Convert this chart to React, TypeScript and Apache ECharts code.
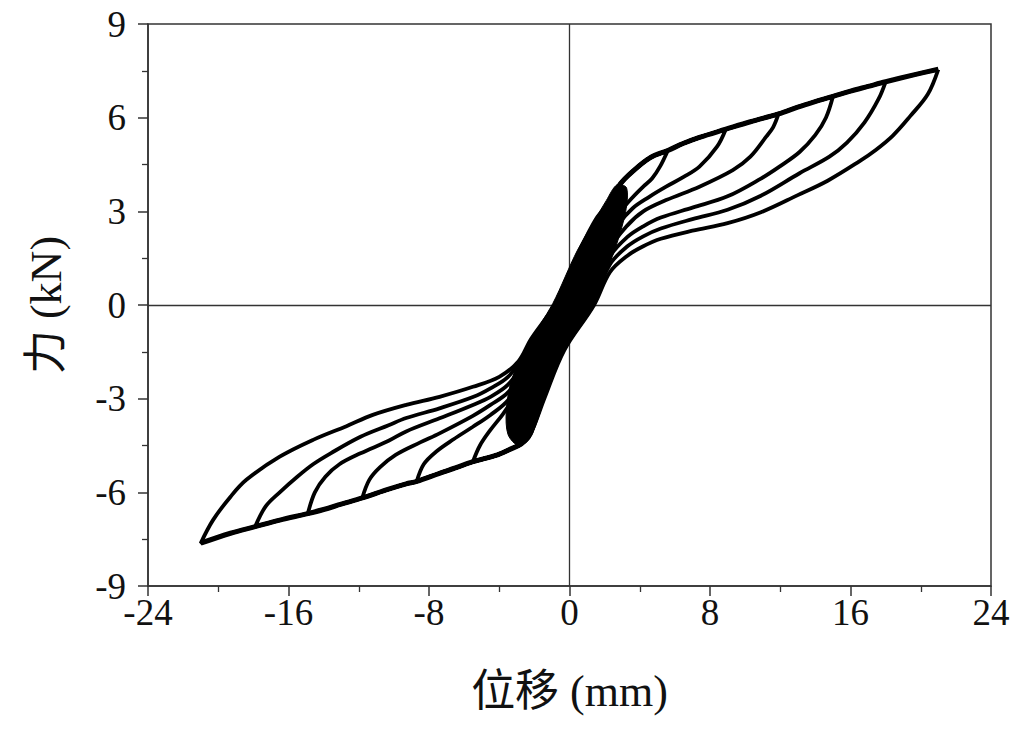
import React, { useEffect, useRef } from "react";
import * as echarts from "echarts";

// Axis ticks
const xTicks = [-24, -16, -8, 0, 8, 16, 24];
const yTicks = [-9, -6, -3, 0, 3, 6, 9];

// Skeleton (envelope) curves: [displacement mm, force kN]
const envPos = [
  [2.3, 3.3], [2.9, 3.88], [3.6, 4.28], [4.6, 4.72], [5.6, 4.95], [6.5, 5.18],
  [7.4, 5.37], [8.9, 5.63], [10.3, 5.87], [11.9, 6.12], [13.0, 6.34], [13.9, 6.5],
  [15.0, 6.68], [16.0, 6.85], [17.0, 7.0], [18.0, 7.15], [19.6, 7.37], [21.0, 7.55],
];
const envNeg = [
  [-2.3, -4.2], [-2.75, -4.45], [-3.3, -4.6], [-4.1, -4.8], [-5.5, -5.02], [-6.5, -5.22],
  [-7.4, -5.39], [-8.7, -5.65], [-9.3, -5.73], [-10.3, -5.9], [-11.8, -6.18], [-13.0, -6.38],
  [-14.0, -6.55], [-14.9, -6.68], [-16.5, -6.89], [-17.9, -7.1], [-19.3, -7.31], [-21.0, -7.63],
];

// Unloading branches (from + peak down to the negative envelope)
const unload21 = [
  [21, 7.55], [20.4, 6.75], [19.4, 6.05], [18.4, 5.42], [17.4, 4.95], [16.5, 4.6], [14.7, 3.98],
  [13.0, 3.52], [10.9, 2.97], [9.0, 2.62], [7.0, 2.38], [5.2, 2.12], [4.2, 1.88], [3.3, 1.58],
  [2.3, 1.05], [1.4, 0], [-0.3, -1.45], [-1.4, -2.95], [-2.0, -3.85], [-2.3, -4.2],
];
const unload18 = [
  [18, 7.15], [17.6, 6.6], [16.8, 5.85], [15.8, 5.2], [14.8, 4.75], [13.1, 4.22], [10.9, 3.5],
  [9.0, 3.05], [7.0, 2.75], [5.2, 2.45], [4.2, 2.2], [3.3, 1.88], [2.3, 1.3], [1.27, 0],
  [-0.4, -1.45], [-1.45, -2.95], [-2.05, -3.85], [-2.3, -4.2],
];
const unload15 = [
  [15, 6.68], [14.6, 6.0], [14.0, 5.45], [13.1, 4.9], [12.0, 4.45], [10.9, 4.05], [9.0, 3.48],
  [7.0, 3.12], [5.2, 2.8], [4.2, 2.52], [3.3, 2.18], [2.3, 1.55], [1.12, 0], [-0.5, -1.45],
  [-1.5, -2.95], [-2.1, -3.85], [-2.3, -4.2],
];
const unload12 = [
  [11.9, 6.12], [11.6, 5.7], [11.2, 5.39], [10.3, 4.75], [9.3, 4.32], [7.4, 3.79], [5.5, 3.36],
  [4.2, 3.0], [3.3, 2.55], [2.3, 1.8], [0.97, 0], [-0.6, -1.45], [-1.55, -2.95], [-2.15, -3.85], [-2.3, -4.2],
];
const unload9 = [
  [8.9, 5.63], [8.4, 5.07], [7.4, 4.43], [6.5, 4.1], [5.5, 3.79], [4.5, 3.45], [3.6, 3.1],
  [2.8, 2.6], [2.2, 2.05], [0.82, 0], [-0.7, -1.45], [-1.6, -2.95], [-2.2, -3.85], [-2.3, -4.2],
];
const unload6 = [
  [5.6, 4.95], [5.15, 4.43], [4.7, 4.05], [4.2, 3.79], [3.6, 3.45], [3.0, 3.05], [2.4, 2.4],
  [0.67, 0], [-0.8, -1.45], [-1.65, -2.95], [-2.2, -3.85], [-2.3, -4.2],
];

// Reloading branches (from − peak up to the positive envelope)
const reload21 = [
  [-21, -7.63], [-20.3, -6.89], [-19.3, -6.14], [-18.4, -5.6], [-16.5, -4.86], [-14.6, -4.32],
  [-12.7, -3.88], [-11.2, -3.52], [-9.3, -3.2], [-7.4, -2.94], [-5.5, -2.62], [-4.0, -2.3],
  [-2.9, -1.8], [-2.2, -1.1], [-0.85, 0], [0.5, 1.65], [1.5, 2.75], [2.3, 3.3],
];
const reload18 = [
  [-17.9, -7.1], [-17.3, -6.45], [-16.5, -6.0], [-15.5, -5.5], [-14.6, -5.1], [-13.6, -4.75],
  [-11.9, -4.22], [-10.3, -3.85], [-9.3, -3.62], [-7.4, -3.31], [-5.5, -2.95], [-4.5, -2.67],
  [-3.5, -2.3], [-2.7, -1.7], [-2.1, -1.1], [-0.75, 0], [0.6, 1.65], [1.6, 2.78], [2.3, 3.3],
];
const reload15 = [
  [-14.9, -6.68], [-14.5, -6.0], [-13.9, -5.5], [-13.1, -5.1], [-11.9, -4.75], [-10.3, -4.35],
  [-9.3, -4.05], [-7.4, -3.63], [-5.5, -3.2], [-4.5, -2.94], [-3.5, -2.55], [-2.65, -1.9],
  [-2.0, -1.1], [-0.65, 0], [0.7, 1.65], [1.7, 2.82], [2.3, 3.3],
];
const reload12 = [
  [-11.8, -6.18], [-11.4, -5.6], [-10.8, -5.2], [-9.9, -4.8], [-8.5, -4.4], [-7.4, -4.11],
  [-5.5, -3.55], [-4.5, -3.2], [-3.5, -2.8], [-2.65, -2.1], [-1.9, -1.1], [-0.55, 0],
  [0.8, 1.65], [1.8, 2.86], [2.3, 3.3],
];
const reload9 = [
  [-8.7, -5.65], [-8.3, -5.1], [-7.6, -4.7], [-6.6, -4.3], [-5.5, -3.9], [-4.5, -3.52],
  [-3.5, -3.05], [-2.7, -2.3], [-1.8, -1.1], [-0.45, 0], [0.9, 1.65], [1.9, 2.9], [2.3, 3.3],
];
const reload6 = [
  [-5.5, -5.02], [-5.1, -4.5], [-4.5, -4.0], [-3.8, -3.5], [-3.2, -3.0], [-2.7, -2.5],
  [-1.7, -1.1], [-0.35, 0], [1.0, 1.65], [2.0, 2.95], [2.3, 3.3],
];

// Small cycles inside the central band
const loop3 = [
  [2.9, 3.88], [2.5, 3.0], [1.6, 1.6], [0.55, 0], [-0.9, -1.45], [-1.7, -2.95], [-2.3, -4.2],
  [-2.6, -3.6], [-2.3, -2.6], [-1.6, -1.6], [-0.25, 0], [1.1, 1.65], [2.1, 3.0], [2.9, 3.88],
];
const loop1 = [
  [1.5, 2.0], [0.8, 0.9], [0.3, 0], [-0.6, -1.1], [-1.5, -2.2], [-0.9, -1.2], [0.0, 0],
  [0.8, 1.0], [1.5, 2.0],
];

// Outline of the solid black core where the many cycles overlap
const bandCore = [
  [-0.95, 0.05], [0.45, 1.75], [2.1, 3.35], [2.7, 3.85], [3.25, 3.75], [3.2, 3.0],
  [2.6, 1.8], [1.9, 0.8], [1.45, 0], [-0.25, -1.45], [-1.4, -3.0], [-2.2, -4.2],
  [-2.9, -4.5], [-3.5, -4.15], [-3.6, -3.4], [-3.3, -2.4], [-2.4, -1.3],
];

function buildLoop(unload: number[][], reload: number[][]) {
  const posTip = unload[0];
  const joinNeg = unload[unload.length - 1];
  const negTip = reload[0];
  const joinPos = reload[reload.length - 1];
  const negSeg = envNeg.filter((p) => p[0] < joinNeg[0] && p[0] > negTip[0]);
  const posSeg = envPos.filter((p) => p[0] > joinPos[0] && p[0] < posTip[0]);
  return [...unload, ...negSeg, ...reload, ...posSeg, posTip];
}

const FONT = "'Liberation Serif', 'Times New Roman', 'Noto Sans CJK SC', serif";

export default function App() {
  const ref = useRef<HTMLDivElement>(null);
  useEffect(() => {
    document.body.style.margin = "0";
    if (!ref.current) return;
    const chart = echarts.init(ref.current, null, { renderer: "svg" });
    const loops = [
      buildLoop(unload21, reload21),
      buildLoop(unload18, reload18),
      buildLoop(unload15, reload15),
      buildLoop(unload12, reload12),
      buildLoop(unload9, reload9),
      buildLoop(unload6, reload6),
      loop3,
      loop1,
    ];
    const lineSeries: any[] = [
      {
        type: "custom",
        data: [0],
        z: 2,
        silent: true,
        renderItem: (_params: any, api: any) => ({
          type: "polygon",
          shape: { points: bandCore.map((p) => api.coord(p)), smooth: 0.3 },
          style: { fill: "#000", stroke: "#000", lineWidth: 1 },
        }),
        markLine: {
          silent: true,
          symbol: "none",
          label: { show: false },
          lineStyle: { color: "#333", width: 1.3, type: "solid" },
          data: [{ xAxis: 0 }, { yAxis: 0 }],
          z: 1,
        },
      },
    ];
    loops.forEach((d) =>
      lineSeries.push({
        type: "line",
        data: d,
        showSymbol: false,
        smooth: 0.35,
        lineStyle: { color: "#000", width: 3.8 },
        z: 3,
      })
    );
    lineSeries.push(
      { type: "line", data: envPos, showSymbol: false, smooth: 0.35, lineStyle: { color: "#000", width: 5 }, z: 4 },
      { type: "line", data: envNeg, showSymbol: false, smooth: 0.35, lineStyle: { color: "#000", width: 5 }, z: 4 }
    );
    chart.setOption({
      animation: false,
      backgroundColor: "#fff",
      grid: {
        left: 148,
        top: 24,
        width: 843,
        height: 562,
        show: true,
        borderColor: "#333",
        borderWidth: 1.5,
        backgroundColor: "transparent",
      },
      xAxis: {
        type: "value",
        min: xTicks[0],
        max: xTicks[xTicks.length - 1],
        interval: 8,
        name: "位移 (mm)",
        nameLocation: "middle",
        nameGap: 83,
        nameTextStyle: { fontFamily: FONT, fontSize: 44, color: "#111" },
        axisLine: { show: true, onZero: false, lineStyle: { color: "#333", width: 1.5 } },
        axisTick: { show: true, inside: false, length: 10, lineStyle: { color: "#333", width: 1.5 } },
        minorTick: { show: true, splitNumber: 2, length: 6, lineStyle: { color: "#333", width: 1.3 } },
        splitLine: { show: false },
        axisLabel: {
          fontFamily: FONT,
          fontSize: 37,
          color: "#111",
          margin: 8,
          formatter: (v: number) => (xTicks.includes(v) ? String(v) : ""),
        },
      },
      yAxis: {
        type: "value",
        min: yTicks[0],
        max: yTicks[yTicks.length - 1],
        interval: 3,
        name: "力 (kN)",
        nameLocation: "middle",
        nameGap: 80,
        nameRotate: 90,
        nameTextStyle: { fontFamily: FONT, fontSize: 44, color: "#111" },
        axisLine: { show: true, onZero: false, lineStyle: { color: "#333", width: 1.5 } },
        axisTick: { show: true, inside: false, length: 10, lineStyle: { color: "#333", width: 1.5 } },
        minorTick: { show: true, splitNumber: 2, length: 6, lineStyle: { color: "#333", width: 1.3 } },
        splitLine: { show: false },
        axisLabel: {
          fontFamily: FONT,
          fontSize: 37,
          color: "#111",
          margin: 22,
          formatter: (v: number) => (yTicks.includes(v) ? String(v) : ""),
        },
      },
      series: lineSeries,
    });
    return () => chart.dispose();
  }, []);
  return <div ref={ref} style={{ width: 1020, height: 731 }} />;
}
